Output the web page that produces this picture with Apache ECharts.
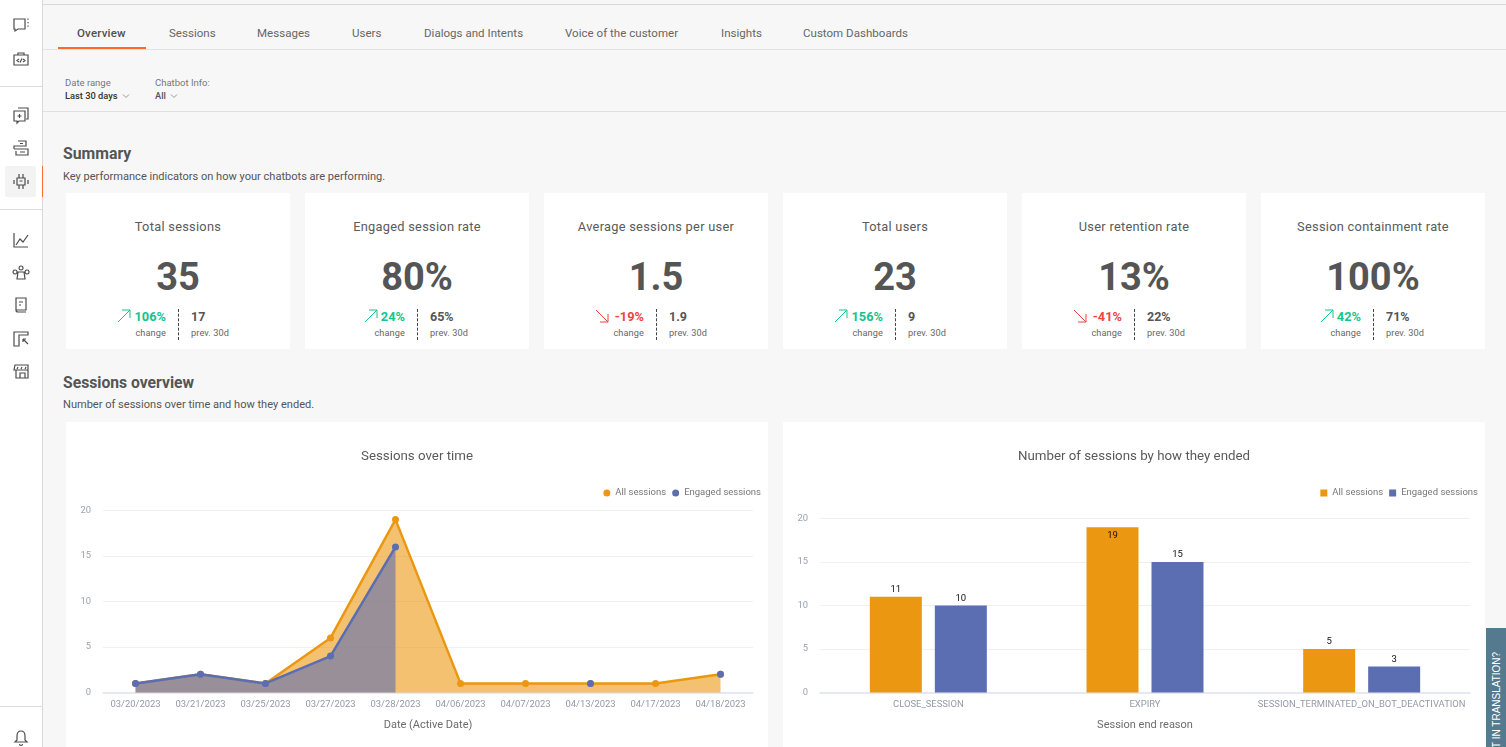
<!DOCTYPE html>
<html><head><meta charset="utf-8">
<script src="https://cdn.jsdelivr.net/npm/echarts@6/dist/echarts.min.js"></script>
<style>
html,body{margin:0;padding:0;width:1506px;height:747px;overflow:hidden;background:#f7f7f7;font-family:Roboto,sans-serif;color:#505050}
.a{position:absolute;white-space:nowrap}
#side{position:absolute;left:0;top:0;width:42px;height:747px;background:#fff;border-right:1px solid #d9d9d9}
.hr{position:absolute;background:#dcdcdc;height:1px}
.tab{position:absolute;top:26px;font-size:11.5px;letter-spacing:.03px;color:#666}
.card{position:absolute;background:#fff;top:193px;width:224px;height:156px}
.chartcard{position:absolute;background:#fff;top:422px;height:325px;width:702px}
.ic{position:absolute;left:11px;width:20px;height:20px;fill:none;stroke:#4c4c4c;stroke-width:1.2}
</style></head><body>
<div id="side"></div>
<div class="hr" style="left:43px;right:0;top:4px;background:#d8d8d8"></div>
<div class="hr" style="left:43px;right:0;top:49px;background:#e3e3e3"></div>
<div class="hr" style="left:43px;right:0;top:111px;background:#e0e0e0"></div>
<div class="a" style="left:58px;top:47px;width:88px;height:2px;background:#ff6a2b"></div>
<div id="tabs"></div>
<div class="a" style="left:65px;top:77px;font-size:9.5px;color:#777">Date range</div>
<div class="a" style="left:65px;top:90px;font-size:9.3px;font-weight:500;color:#333">Last 30 days</div>
<svg class="a" style="left:122px;top:93px" width="8" height="6"><path d="M1 1.5L4 4.5L7 1.5" fill="none" stroke="#999"/></svg>
<div class="a" style="left:155px;top:77px;font-size:9.5px;color:#777">Chatbot Info:</div>
<div class="a" style="left:155px;top:90px;font-size:9.3px;font-weight:500;color:#555">All</div>
<svg class="a" style="left:170px;top:93px" width="8" height="6"><path d="M1 1.5L4 4.5L7 1.5" fill="none" stroke="#999"/></svg>
<div class="a" style="left:63px;top:144px;font-size:15.8px;font-weight:700;color:#555">Summary</div>
<div class="a" style="left:63px;top:170px;font-size:11.05px;color:#555">Key performance indicators on how your chatbots are performing.</div>
<div id="cards"></div>
<div class="a" style="left:63px;top:373px;font-size:15.7px;font-weight:700;color:#555">Sessions overview</div>
<div class="a" style="left:63px;top:398px;font-size:11.05px;color:#555">Number of sessions over time and how they ended.</div>
<div class="chartcard" style="left:66px" id="lineChart"></div>
<div class="chartcard" style="left:783px" id="barChart"></div>
<div class="a" style="left:1486px;top:628px;width:20px;height:119px;background:#537a8e;overflow:hidden">
 <div class="a" style="left:5px;top:-10px;writing-mode:vertical-rl;transform:rotate(180deg);font-family:'Liberation Sans',sans-serif;font-size:10px;font-weight:400;color:#fff;height:150px;text-align:left;direction:ltr">LOST IN TRANSLATION?</div>
</div>

<script>
const tabNames = ['Overview','Sessions','Messages','Users','Dialogs and Intents','Voice of the customer','Insights','Custom Dashboards'];
const tabLefts = [77,169,257,352,424,565,721,803];
const kpiTitles = ['Total sessions','Engaged session rate','Average sessions per user','Total users','User retention rate','Session containment rate'];
const kpiValues = ['35','80%','1.5','23','13%','100%'];
const kpiChanges = ['106%','24%','-19%','156%','-41%','42%'];
const kpiPrev = ['17','65%','1.9','9','22%','71%'];
const kpiLefts = [66,305,544,783,1022,1261];

const dates = ['03/20/2023','03/21/2023','03/25/2023','03/27/2023','03/28/2023','04/06/2023','04/07/2023','04/13/2023','04/17/2023','04/18/2023'];
const allSessions = [1,2,1,6,19,1,1,1,1,2];
const engagedSessions = [1,2,1,4,16,null,null,1,null,2];

const reasons = ['CLOSE_SESSION','EXPIRY','SESSION_TERMINATED_ON_BOT_DEACTIVATION'];
const allByReason = [11,19,5];
const engagedByReason = [10,15,3];

const ORANGE = '#ec9712', BLUE = '#5b6eb2';

document.getElementById('tabs').innerHTML = tabNames.map((t,i)=>
 `<div class="tab" style="left:${tabLefts[i]}px;${i==0?'font-weight:500;color:#505050;letter-spacing:.2px':''}">${t}</div>`).join('');

document.getElementById('cards').innerHTML = kpiTitles.map((t,i)=>{
 const neg = kpiChanges[i].startsWith('-'), col = neg?'#f0443e':'#14c38e';
 return `<div class="card" style="left:${kpiLefts[i]}px">
  <div class="a" style="left:0;width:224px;text-align:center;top:26px;font-size:12.8px;letter-spacing:.28px;color:#5a5a5a">${t}</div>
  <div class="a" style="left:0;width:224px;text-align:center;top:61px;font-size:38px;font-weight:700;line-height:46px;color:#555">${kpiValues[i]}</div>
  <div class="a" style="right:124px;top:116px;font-size:12.8px;font-weight:700;color:${col}">${kpiChanges[i]}</div>
  <div class="a" style="right:124px;top:134px;font-size:9.2px;letter-spacing:.1px;color:#666">change</div>
  <div class="a" style="left:112px;top:116px;height:31px;border-left:1px dashed #444"></div>
  <div class="a" style="left:125px;top:116px;font-size:12.5px;font-weight:700;color:#555">${kpiPrev[i]}</div>
  <div class="a" style="left:125px;top:134px;font-size:9.2px;letter-spacing:.1px;color:#666">prev. 30d</div>
  <svg class="a" style="right:${124+kpiChanges[i].length*8+2}px;top:116px" width="15" height="15"><path d="${neg ? 'M1 1L13 13M13 5V13H5' : 'M1 13L13 1M5 1H13V9'}" fill="none" stroke="${col}" stroke-width="1"/></svg>
 </div>`;}).join('');

const icons = [
 [15,'M3 4h11v10H7l-3 2v-2H3zM17 3.5v1.2M17 7v1.2M17 10.5v1.2'],
 [49,'M3 6h14v10H3zM7 6V4h6v2M8 10l-2 1.5L8 13M12 10l2 1.5L12 13M11 9.5L9 13.5'],
 [105,'M7 3h10v11h-2M3 6h11v10H8l-2 2v-2H3zM6.5 11h4M8.5 9v4'],
 [138,'M7 3h8v5H3v3M3 11h14v6H5v-4M9 5.5h3M9 14h5'],
 [171,'M6 7h8v7H6zM3 9v4M17 9v4M8 3v4M12 3v4M8 14v4M12 14v4M8.5 10h3'],
 [230,'M3 3v14h14M5 15l4-6 3 3 5-7'],
 [262,'M7 10h6l1 7H6zM10 4a2 2 0 1 0 .1 0M4 8a2 2 0 1 0 .1 0M16 8a2 2 0 1 0 .1 0'],
 [295,'M5 3h10v12H5zM8 7h4M8 10h2M5 15c0 2 1 2 2 2h8'],
 [329,'M3 3h14v3H8v11H3zM12 10l5 5M12 10h3M12 10v3'],
 [361,'M4 4h13v5H3zM5 9v8h12V9M9 12h5v5H9zM7 6l-1 2M11 6l-1 2M15 6l-1 2'],
 [728,'M10 3c-3 0-4 2-4 5v4l-2 2h12l-2-2V8c0-3-1-5-4-5zM8.5 16c0 2 3 2 3 0']
];
const side = document.getElementById('side');
let s = '<div class="hr" style="left:0;width:42px;top:86px"></div><div class="hr" style="left:0;width:42px;top:209px"></div><div class="hr" style="left:0;width:42px;top:706px"></div>'
 + '<div class="a" style="left:5px;top:166px;width:31px;height:31px;background:#f3f3f3;border-radius:2px"></div>'
 + '<div class="a" style="left:42px;top:166px;width:1px;height:31px;background:#ff6a2b"></div>';
icons.forEach(([y,d])=>{ s += `<svg class="ic" style="top:${y}px" viewBox="0 0 20 20"><path d="${d}"/></svg>`; });
side.innerHTML = s;

function common(title, legendIcon){
 return {
  animation:false, textStyle:{fontFamily:'Roboto'},
  title:{text:title,left:'center',top:23,textStyle:{fontSize:13.3,fontWeight:400,color:'#5a5a5a',fontFamily:'Roboto'}},
  legend:{data:['All sessions','Engaged sessions'],top:61,right:2,icon:legendIcon,itemWidth:7,itemHeight:7,itemGap:6,
    textStyle:{fontSize:9.5,color:'#777',fontFamily:'Roboto',padding:[0,0,0,0]}}
 };
}
function yAxis(){ return {type:'value',min:0,max:20,interval:5,axisLine:{show:false},axisTick:{show:false},
   axisLabel:{fontSize:9.4,color:'#9aa3b0',margin:12},splitLine:{lineStyle:{color:'#eef0f3',width:1}}}; }
function xAxis(cats,name){ return {type:'category',data:cats,name:name,nameLocation:'middle',nameGap:27,
   nameTextStyle:{fontSize:11,color:'#6c6c6c'},axisTick:{show:false},axisLine:{lineStyle:{color:'#dfe3ee',width:1.5}},
   axisLabel:{fontSize:9.45,color:'#929ba9',margin:8,interval:0}}; }

const lc = echarts.init(document.getElementById('lineChart'),null,{renderer:'canvas'});
lc.setOption(Object.assign(common('Sessions over time','circle'),{
 grid:{left:37,right:15,top:88.5,bottom:54.5},
 xAxis:xAxis(dates,'Date (Active Date)'), yAxis:yAxis(),
 series:[
  {name:'All sessions',type:'line',data:allSessions,symbol:'circle',symbolSize:7,itemStyle:{color:ORANGE},
   lineStyle:{color:ORANGE,width:2.5},areaStyle:{color:ORANGE,opacity:.6},z:2},
  {name:'Engaged sessions',type:'line',data:engagedSessions,symbol:'circle',symbolSize:7,showSymbol:true,connectNulls:false,itemStyle:{color:BLUE},
   lineStyle:{color:BLUE,width:2.5},areaStyle:{color:BLUE,opacity:.6},z:3}
 ]}));

const bc = echarts.init(document.getElementById('barChart'),null,{renderer:'canvas'});
const lab = {show:true,position:'top',distance:2,fontSize:9.5,color:'#111'};
bc.setOption(Object.assign(common('Number of sessions by how they ended','rect'),{
 grid:{left:37,right:15,top:96.5,bottom:54.5},
 xAxis:xAxis(reasons,'Session end reason'), yAxis:yAxis(),
 series:[
  {name:'All sessions',type:'bar',barWidth:52,barGap:'25%',itemStyle:{color:ORANGE},label:lab,
   data:allByReason.map(v=> v>=19 ? {value:v,label:{position:'insideTop',distance:3}} : v)},
  {name:'Engaged sessions',type:'bar',barWidth:52,itemStyle:{color:BLUE},label:lab,data:engagedByReason}
 ]}));
</script>
</body></html>
